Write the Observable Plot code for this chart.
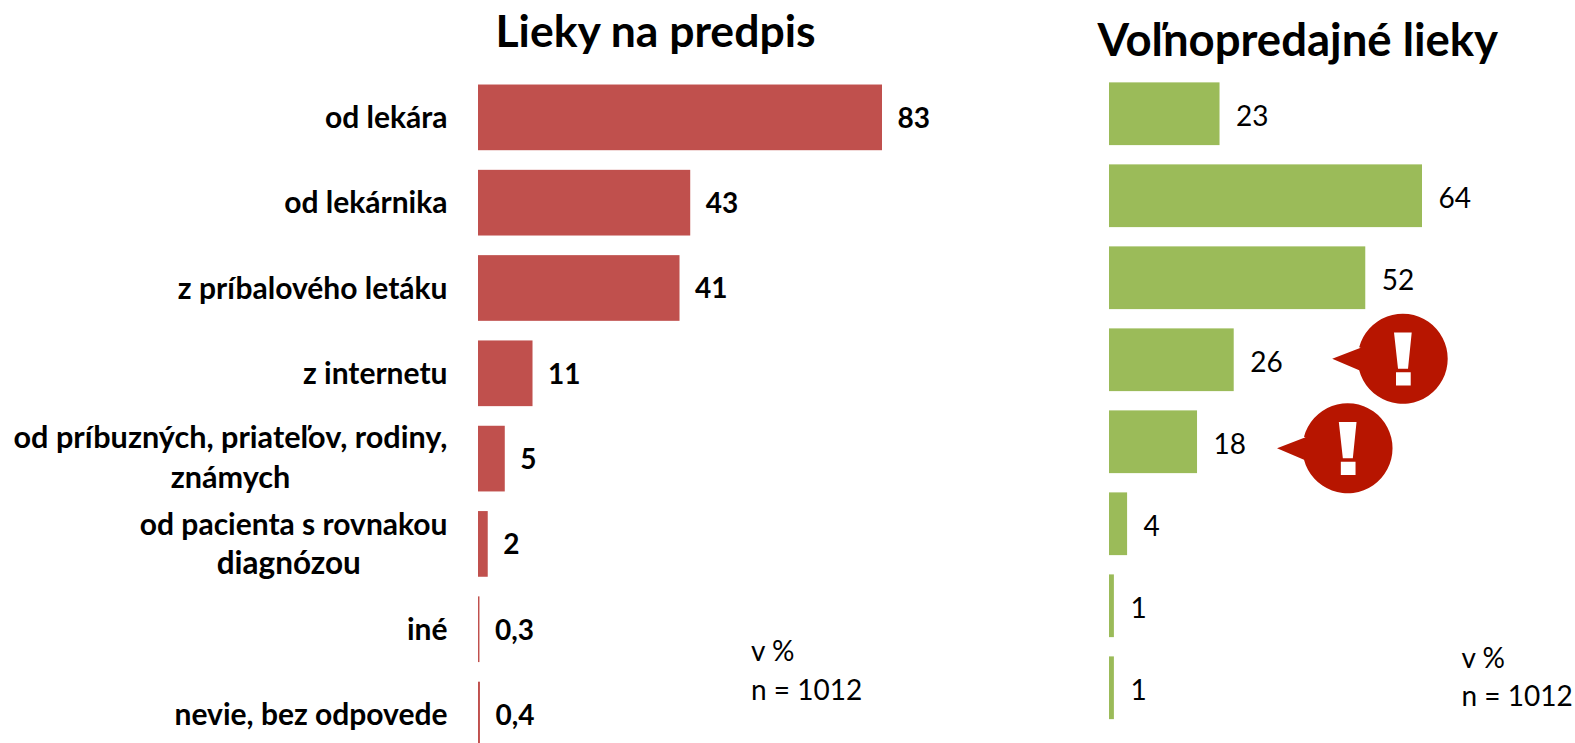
<!DOCTYPE html>
<html><head><meta charset="utf-8">
<script src="https://cdn.jsdelivr.net/npm/d3@7"></script>
<script src="https://cdn.jsdelivr.net/npm/@observablehq/plot@0.6"></script>
<style>
html,body{margin:0;padding:0;background:#fff}
#chart{position:relative;width:1575px;height:743px;overflow:hidden}
#chart svg{position:absolute;left:0;top:0;background:transparent}
</style></head><body><div id="chart"></div>
<script>
const FONT = "Lato, 'Open Sans', sans-serif";
const rxCategories = ["od lekára","od lekárnika","z príbalového letáku","z internetu","od príbuzných, priateľov, rodiny,","od pacienta s rovnakou","iné","nevie, bez odpovede"];
const rxSecondLines = {4:"známych",5:"diagnózou"};
const rxValues = [83,43.6,41.4,11.2,5.5,2,0.3,0.4];
const rxLabels = ["83","43","41","11","5","2","0,3","0,4"];
const otcValues = [22.6,64,52.4,25.5,18,3.7,1,1];
const otcLabels = ["23","64","52","26","18","4","1","1"];
const rxTitle = "Lieky na predpis";
const otcTitle = "Voľnopredajné lieky";
const noteLines = ["v %","n = 1012"];
const alertRows = [3,4];

const rxData = rxCategories.map((c,i)=>({row:i,label:c,value:rxValues[i],text:rxLabels[i]}));
const otcData = otcValues.map((v,i)=>({row:i,value:v,text:otcLabels[i]}));
const rows = d3.range(8);

const bubble = {draw(c){
  c.moveTo(-70.5,0); c.lineTo(-42,-11);
  c.arc(0,0,45,Math.atan2(-11,-42),Math.atan2(11,-42));
  c.closePath();
}};
const bang = {draw(c){
  c.moveTo(-8.7,-26.3); c.lineTo(9,-26.3); c.lineTo(5.3,10); c.lineTo(-4.7,10); c.closePath();
  c.moveTo(-6.7,13.5); c.lineTo(8,13.5); c.lineTo(8,26.7); c.lineTo(-6.7,26.7); c.closePath();
}};
const frameText = (t,x,y,size,weight,lh) => Plot.text([t],{frameAnchor:"top-left",dx:x,dy:y,textAnchor:"start",lineAnchor:"middle",lineHeight:lh||1,fontSize:size,fontWeight:weight,fontFamily:FONT,fill:"#000"});
const labelStyle = {fontSize:30,fontWeight:700,fontFamily:FONT,fill:"#000"};
const firstLineDy = {4:-20.5,5:-18.7};
const labelSize = {4:30.6};
const secondLine = (row,dx,dy,size) => Plot.text([rxSecondLines[row]],{x:0,y:()=>row,text:d=>d,dx,dy,textAnchor:"middle",...labelStyle,fontSize:size});

const base = {width:1575,height:743,margin:0,style:{background:"transparent",fontFamily:FONT}};

const rxPlot = Plot.plot({...base,
  x:{domain:[0,83],range:[478,882],axis:null},
  y:{domain:rows,range:[64.9,767],padding:0.23,round:false,axis:null},
  marks:[
    Plot.barX(rxData,{x:"value",y:"row",fill:"#C0504D"}),
    Plot.text(rxData,{x:"value",y:"row",text:"text",dx:15,dy:1,textAnchor:"start",fontSize:28,fontWeight:700,fontFamily:FONT,fill:"#000"}),
    ...rxData.map(d=>Plot.text([d],{x:0,y:"row",text:"label",dx:-31,dy:firstLineDy[d.row]??0.5,textAnchor:"end",...labelStyle,fontSize:labelSize[d.row]??30})),
    secondLine(4,-248,19.5,30.6),
    secondLine(5,-189.7,19.3,31.5),
    frameText(rxTitle,495,32,44.5,700),
    frameText(noteLines.join("\n"),750.5,667.5,28,400,1.39)
  ]});

const callout = (row,dx,dy) => [
  Plot.dot([otcData[row]],{x:"value",y:"row",symbol:bubble,fill:"#B71500",stroke:"none",dx,dy}),
  Plot.dot([otcData[row]],{x:"value",y:"row",symbol:bang,fill:"#fff",stroke:"none",dx,dy})
];
const otcPlot = Plot.plot({...base,
  x:{domain:[0,64],range:[1109,1422],axis:null},
  y:{domain:rows,range:[63.1,738.4],padding:0.235,round:false,axis:null},
  marks:[
    Plot.barX(otcData,{x:"value",y:"row",fill:"#9BBB59"}),
    Plot.text(otcData,{x:"value",y:"row",text:"text",dx:16,dy:2.5,textAnchor:"start",fontSize:28,fontWeight:400,fontFamily:FONT,fill:"#000"}),
    ...callout(alertRows[0],168.5,-1.5),
    ...callout(alertRows[1],150,6),
    frameText(otcTitle,1097,41,45.5,700),
    frameText(noteLines.join("\n"),1461,674,28,400,1.39)
  ]});
document.getElementById("chart").append(rxPlot,otcPlot);
</script></body></html>
